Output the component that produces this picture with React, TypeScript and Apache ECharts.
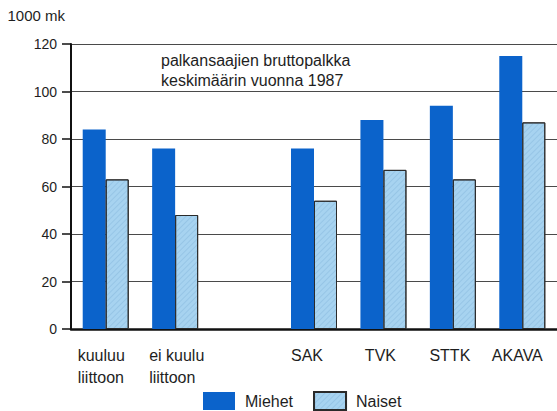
import React, { useEffect, useRef } from "react";
import * as echarts from "echarts";

const categories = ["kuuluu\nliittoon", "ei kuulu\nliittoon", "", "SAK", "TVK", "STTK", "AKAVA"];
const labelShift = [-4, -8, 0, 14, 6, 6, 10];
const miehet: (number | null)[] = [84, 76, null, 76, 88, 94, 115];
const naiset: (number | null)[] = [63, 48, null, 54, 67, 63, 87];
const seriesNames = ["Miehet", "Naiset"];
const titleText = "palkansaajien bruttopalkka\nkeskimäärin vuonna 1987";
const yName = "1000 mk";

const FONT = "'Liberation Sans', Arial, Helvetica, sans-serif";
const TXT = "#1e1e1e";

export default function App() {
  const ref = useRef<HTMLDivElement>(null);
  useEffect(() => {
    if (!ref.current) return;
    const chart = echarts.init(ref.current, undefined, { renderer: "svg" });
    chart.setOption({
      animation: false,
      backgroundColor: "#ffffff",
      textStyle: { fontFamily: FONT, color: TXT },
      title: {
        text: titleText,
        left: 161,
        top: 50,
        padding: 0,
        textStyle: { fontSize: 16, fontWeight: "normal", color: TXT, lineHeight: 20, fontFamily: FONT },
      },
      legend: {
        left: 203,
        top: 391,
        padding: 0,
        itemWidth: 32,
        itemHeight: 18,
        itemGap: 20,
        icon: "rect",
        textStyle: { fontSize: 16, color: TXT, fontFamily: FONT, padding: [2, 0, 0, 5] },
        data: seriesNames,
      },
      grid: { left: 71, top: 44, width: 490, height: 285, containLabel: false },
      xAxis: {
        type: "category",
        data: categories.map((c, i) => ({
          value: c,
          textStyle: { padding: labelShift[i] >= 0 ? [0, labelShift[i], 0, 0] : [0, 0, 0, -labelShift[i]] },
        })),
        axisLine: { lineStyle: { color: "#111", width: 2.5 } },
        axisTick: { show: false },
        axisLabel: {
          interval: 0,
          margin: 15,
          fontSize: 16,
          lineHeight: 22,
          color: TXT,
          fontFamily: FONT,
          verticalAlign: "top",
          formatter: (v: string) =>
            v.indexOf("\n") >= 0
              ? v
                  .split("\n")
                  .map((s) => "{l|" + s + "}")
                  .join("\n")
              : v,
          rich: {
            l: { width: 60, align: "left", fontSize: 16, lineHeight: 22, color: TXT, fontFamily: FONT },
          },
        },
      },
      yAxis: {
        type: "value",
        min: 0,
        max: 120,
        interval: 20,
        name: yName,
        nameLocation: "end",
        nameGap: 29,
        nameTextStyle: {
          fontSize: 15,
          color: TXT,
          fontFamily: FONT,
          align: "right",
          verticalAlign: "middle",
          padding: [0, 6, 0, 0],
        },
        axisLine: { show: true, lineStyle: { color: "#111", width: 2 } },
        axisTick: { show: true, length: 9, lineStyle: { color: "#111", width: 1.5 } },
        axisLabel: {
          fontSize: 14,
          color: TXT,
          fontFamily: FONT,
          margin: 14,
          padding: [0, 0, 7, 0],
        },
        splitLine: { show: true, lineStyle: { color: "#4a4a4a", width: 1 } },
      },
      series: [
        {
          name: seriesNames[0],
          type: "bar",
          data: miehet,
          barWidth: 23,
          barGap: "0%",
          itemStyle: { color: "#0b63cb" },
        },
        {
          name: seriesNames[1],
          type: "bar",
          data: naiset,
          barWidth: 23,
          barGap: "0%",
          itemStyle: {
            color: "#a7d3f0",
            borderColor: "#2a2a2a",
            borderWidth: 1,
            decal: {
              symbol: "rect",
              symbolSize: 1,
              color: "rgba(120,170,210,0.35)",
              dashArrayX: [1, 0],
              dashArrayY: [1, 3],
              rotation: -Math.PI / 4,
            },
          },
        },
      ],
    });
    return () => chart.dispose();
  }, []);
  return (
    <div
      ref={ref}
      style={{ position: "fixed", left: 0, top: 0, width: 557, height: 411, background: "#fff" }}
    />
  );
}
